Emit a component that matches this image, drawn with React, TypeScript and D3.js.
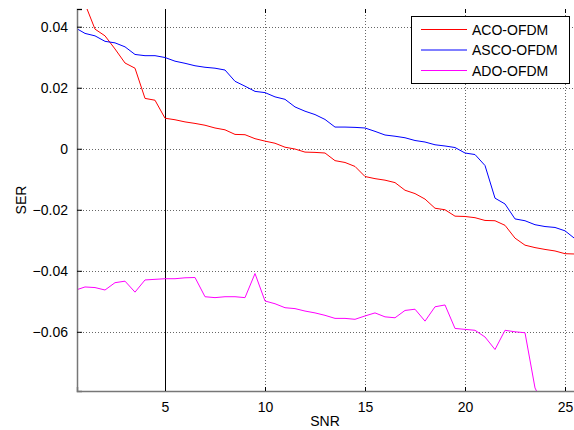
import React, { useRef, useEffect } from 'react';
import * as d3 from 'd3';

// SNR sample points (0.5 dB step)
const snr = [
  0.5, 1, 1.5, 2, 2.5, 3, 3.5, 4, 4.5, 5, 5.5, 6, 6.5, 7, 7.5, 8, 8.5, 9, 9.5, 10,
  10.5, 11, 11.5, 12, 12.5, 13, 13.5, 14, 14.5, 15, 15.5, 16, 16.5, 17, 17.5, 18,
  18.5, 19, 19.5, 20, 20.5, 21, 21.5, 22, 22.5, 23, 23.5, 24, 24.5, 25, 25.5,
];

const aco = [
  0.058, 0.0475, 0.0392, 0.037, 0.0327, 0.0281, 0.0264, 0.0165, 0.0159, 0.01,
  0.0095, 0.0088, 0.0083, 0.0077, 0.0068, 0.0062, 0.0047, 0.0046, 0.0033, 0.0025,
  0.0018, 0.0005, -0.0001, -0.0011, -0.0012, -0.0014, -0.0039, -0.0045, -0.0058, -0.0091,
  -0.0098, -0.0103, -0.0111, -0.0136, -0.0147, -0.0165, -0.0195, -0.02, -0.0221, -0.0222,
  -0.0226, -0.0235, -0.0236, -0.0251, -0.0293, -0.0316, -0.0324, -0.033, -0.0335, -0.0344,
  -0.0345,
];

const asco = [
  0.0397, 0.0378, 0.037, 0.0352, 0.0347, 0.0334, 0.0309, 0.0305, 0.0305, 0.0299,
  0.0287, 0.028, 0.0272, 0.0267, 0.0264, 0.0258, 0.0221, 0.0205, 0.0188, 0.0184,
  0.017, 0.0162, 0.0137, 0.0123, 0.0112, 0.0096, 0.0071, 0.0071, 0.007, 0.0068,
  0.0057, 0.0045, 0.0041, 0.0036, 0.0027, 0.0022, 0.0013, 0.0009, 0.0004, -0.0014,
  -0.0019, -0.0055, -0.0162, -0.0181, -0.023, -0.0236, -0.0249, -0.0255, -0.0258, -0.0269,
  -0.0295,
];

const ado = [
  -0.0464, -0.0453, -0.0455, -0.0463, -0.0439, -0.0434, -0.047, -0.043, -0.0428, -0.0426,
  -0.0426, -0.0423, -0.0422, -0.0485, -0.0488, -0.0485, -0.0485, -0.0488, -0.0409, -0.0499,
  -0.0508, -0.0521, -0.0524, -0.0532, -0.0538, -0.0546, -0.0556, -0.0556, -0.0559, -0.0548,
  -0.0538, -0.0551, -0.0554, -0.053, -0.0526, -0.0565, -0.0518, -0.0512, -0.0589, -0.0592,
  -0.0595, -0.0617, -0.0658, -0.0595, -0.06, -0.0603, -0.0784, -0.085, -0.088, -0.09,
  -0.092,
];

const seriesNames = ['ACO-OFDM', 'ASCO-OFDM', 'ADO-OFDM'];
const seriesColors = ['#ff0000', '#0000ff', '#ff00ff'];
const xTicks = [5, 10, 15, 20, 25];
const yTicks = [0.04, 0.02, 0, -0.02, -0.04, -0.06];

const App = () => {
  const ref = useRef<SVGSVGElement>(null);

  useEffect(() => {
    if (!ref.current) return;
    const svg = d3.select(ref.current);
    svg.selectAll('*').remove();

    const left = 77, right = 575, top = 9, bottom = 391;
    const font = '"Liberation Sans", Arial, sans-serif';

    const x = d3.scaleLinear().domain([0.6, 25.5]).range([left, right]);
    const y = d3.scaleLinear().domain([-0.0794, 0.0458]).range([bottom, top]);

    svg.append('defs').append('clipPath').attr('id', 'plotclip')
      .append('rect')
      .attr('x', left).attr('y', top)
      .attr('width', right - left).attr('height', bottom - top);

    // grid
    svg.append('g')
      .selectAll('line')
      .data(yTicks)
      .join('line')
      .attr('x1', left).attr('x2', right)
      .attr('y1', d => Math.round(y(d)) + 0.5).attr('y2', d => Math.round(y(d)) + 0.5)
      .attr('stroke', '#666').attr('stroke-width', 1)
      .attr('stroke-dasharray', '1,2');

    svg.append('g')
      .selectAll('line')
      .data(xTicks.filter(d => d !== 5))
      .join('line')
      .attr('x1', d => Math.round(x(d)) + 0.5).attr('x2', d => Math.round(x(d)) + 0.5)
      .attr('y1', top).attr('y2', bottom)
      .attr('stroke', '#666').attr('stroke-width', 1)
      .attr('stroke-dasharray', '1,2');

    // solid marker line at SNR = 5
    svg.append('line')
      .attr('x1', Math.round(x(5)) + 0.5).attr('x2', Math.round(x(5)) + 0.5)
      .attr('y1', top).attr('y2', bottom)
      .attr('stroke', '#000').attr('stroke-width', 1);

    // series
    const line = d3.line<number>()
      .x((_, i) => x(snr[i]))
      .y(d => y(d));

    const g = svg.append('g').attr('clip-path', 'url(#plotclip)');
    [aco, asco, ado].forEach((s, k) => {
      g.append('path')
        .datum(s)
        .attr('fill', 'none')
        .attr('stroke', seriesColors[k])
        .attr('stroke-width', 1)
        .attr('d', line);
    });

    // axes
    svg.append('g')
      .attr('transform', `translate(${left},0)`)
      .call(d3.axisLeft(y).tickValues(yTicks).tickSize(-5).tickPadding(9)
        .tickFormat(d => (d === 0 ? '0' : d3.format('.2f')(d as number))))
      .call(a => a.select('.domain').attr('stroke', '#777').attr('stroke-width', 1.5))
      .call(a => a.selectAll('.tick line').attr('stroke', '#000'))
      .call(a => a.selectAll('.tick text')
        .attr('font-family', font).attr('font-size', 14).attr('fill', '#000'));

    svg.append('g')
      .attr('transform', `translate(0,${bottom})`)
      .call(d3.axisBottom(x).tickValues(xTicks).tickSize(-4).tickPadding(11))
      .call(a => a.select('.domain').attr('stroke', '#777').attr('stroke-width', 1.5))
      .call(a => a.selectAll('.tick line').attr('stroke', '#000'))
      .call(a => a.selectAll('.tick text')
        .attr('font-family', font).attr('font-size', 14).attr('fill', '#000'));

    // top ticks
    svg.append('g')
      .selectAll('line')
      .data(xTicks)
      .join('line')
      .attr('x1', d => Math.round(x(d)) + 0.5).attr('x2', d => Math.round(x(d)) + 0.5)
      .attr('y1', top).attr('y2', top + 4)
      .attr('stroke', '#000');

    svg.append('line')
      .attr('x1', left).attr('x2', left + 5)
      .attr('y1', top + 0.5).attr('y2', top + 0.5)
      .attr('stroke', '#000');

    // axis labels
    svg.append('text')
      .attr('x', (left + right) / 2 - 1).attr('y', 426)
      .attr('text-anchor', 'middle')
      .attr('font-family', font).attr('font-size', 14)
      .text('SNR');

    svg.append('text')
      .attr('transform', `translate(26,${(top + bottom) / 2}) rotate(-90)`)
      .attr('text-anchor', 'middle')
      .attr('font-family', font).attr('font-size', 14)
      .text('SER');

    // legend
    const lg = svg.append('g');
    lg.append('rect')
      .attr('x', 411.5).attr('y', 16.5)
      .attr('width', 158).attr('height', 67)
      .attr('fill', '#fff').attr('stroke', '#000').attr('stroke-width', 1);
    seriesNames.forEach((name, k) => {
      const yy = 29.5 + k * 20.5;
      lg.append('line')
        .attr('x1', 421).attr('x2', 467)
        .attr('y1', yy).attr('y2', yy)
        .attr('stroke', seriesColors[k]).attr('stroke-width', 1);
      lg.append('text')
        .attr('x', 472).attr('y', yy + 5)
        .attr('font-family', font).attr('font-size', 14)
        .text(name);
    });
  }, []);

  return (
    <svg
      ref={ref}
      width={574}
      height={430}
      style={{ position: 'absolute', left: 0, top: 0, background: '#fff' }}
    />
  );
};

export default App;
